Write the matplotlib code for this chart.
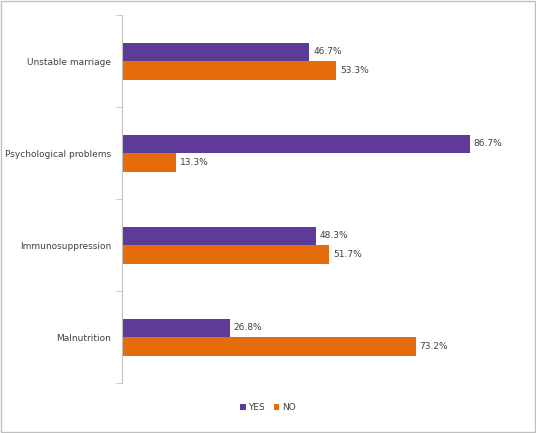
import numpy as np
import matplotlib.pyplot as plt

categories = ['Unstable marriage', 'Psychological problems', 'Immunosuppression', 'Malnutrition']
yes_vals = [46.7, 86.7, 48.3, 26.8]
no_vals = [53.3, 13.3, 51.7, 73.2]

purple = '#5f3b99'
orange = '#e46c0a'

fig = plt.figure(figsize=(5.36, 4.33), dpi=100)
ax = fig.add_axes([0.228, 0.115, 0.748, 0.85])
fig.patches.append(plt.Rectangle((0.002, 0.002), 0.996, 0.996, transform=fig.transFigure,
                                 fill=False, edgecolor='#bfbfbf', linewidth=1))

y = np.arange(len(categories))
h = 0.2
ax.barh(y - h / 2, yes_vals, height=h, color=purple, label='YES')
ax.barh(y + h / 2, no_vals, height=h, color=orange, label='NO')

for yi, v in zip(y, yes_vals):
    ax.text(v + 1, yi - h / 2, f'{v}%', va='center', fontsize=6.5, color='#404040')
for yi, v in zip(y, no_vals):
    ax.text(v + 1, yi + h / 2, f'{v}%', va='center', fontsize=6.5, color='#404040')

ax.set_xlim(0, 100)
ax.set_ylim(len(categories) - 0.5, -0.5)
ax.set_yticks(y)
ax.set_yticklabels(categories, fontsize=6.5, color='#404040')
ax.set_yticks(np.arange(len(categories) + 1) - 0.5, minor=True)
ax.tick_params(axis='y', which='major', length=0, pad=8)
ax.tick_params(axis='y', which='minor', length=4, color='#bfbfbf', direction='out')
ax.set_xticks([])
for s in ['top', 'right', 'bottom']:
    ax.spines[s].set_visible(False)
ax.spines['left'].set_color('#bfbfbf')

fig.legend(loc='lower center', bbox_to_anchor=(0.5, 0.03), ncol=2, frameon=False,
           fontsize=6.5, handlelength=0.6, handleheight=0.6, columnspacing=1.0,
           handletextpad=0.3, labelcolor='#404040')

fig.savefig('out.png', dpi=100)
